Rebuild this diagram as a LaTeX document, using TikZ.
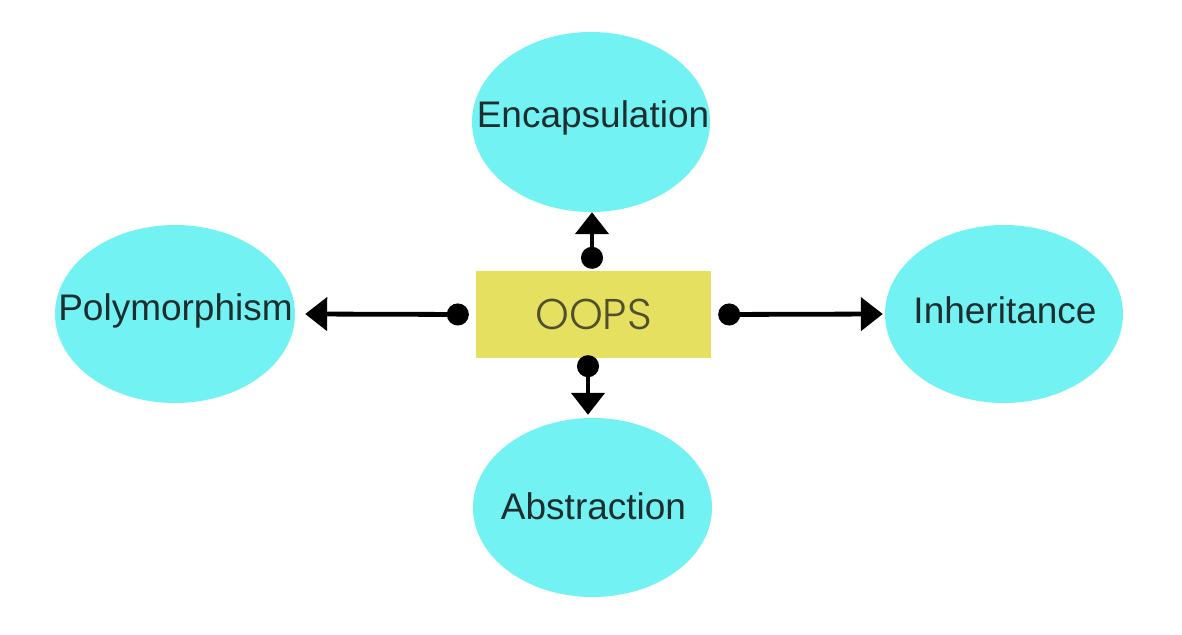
\documentclass[tikz,border=0pt]{standalone}
\usepackage{fontspec}
\setmainfont{Liberation Sans}
\newfontfamily\oopsfont{Poppins}[UprightFont={* Light}]
\usetikzlibrary{shapes.geometric,arrows.meta}
\definecolor{bubble}{RGB}{115,242,243}
\definecolor{oopsbg}{RGB}{230,224,96}
\definecolor{labeltext}{RGB}{30,45,45}
\definecolor{oopstext}{RGB}{80,78,45}
\tikzset{
  bubble/.style={ellipse, fill=bubble, draw=none, inner sep=0pt},
  bubbletext/.style={font=\fontsize{37}{40}\selectfont, text=labeltext},
  conn/.style={line width=4.8pt, {Circle[length=22pt]}-{Triangle[length=22pt,width=33pt]}},
}
\begin{document}
\begin{tikzpicture}[x=1pt,y=-1pt]
\useasboundingbox (0,0) rectangle (1182,634);
\node[bubble, minimum width=238pt, minimum height=180pt] (enc) at (591,122) {};
\node[bubble, minimum width=239pt, minimum height=179pt] (abs) at (592.5,507.5) {};
\node[bubble, minimum width=240pt, minimum height=178pt] (poly) at (175,314) {};
\node[bubble, minimum width=238pt, minimum height=178pt] (inh) at (1004,314) {};
\node[bubbletext] (enctext) at (593,118) {Encapsulation};
\node[bubbletext] (abstext) at (593.5,506) {Abstraction};
\node[bubbletext] (polytext) at (175.5,311) {Polymorphism};
\node[bubbletext] (inhtext) at (1005,310) {Inheritance};
\node[rectangle, fill=oopsbg, minimum width=235pt, minimum height=87pt, inner sep=0pt,
      font=\oopsfont\fontsize{43}{46}\selectfont, text=oopstext] (oops) at (593.5,314.5) {OOPS};
\draw[conn] ([xshift=-7pt]oops.west) -- ([xshift=10pt]poly.east);
\draw[conn] ([xshift=7pt]oops.east) -- ([xshift=-2pt]inh.west);
\draw[conn] ([xshift=-1.5pt,yshift=2pt]oops.north) -- ([xshift=1pt]enc.south);
\draw[conn] ([xshift=-5.5pt,yshift=3pt]oops.south) -- ([xshift=-4.5pt,yshift=3pt]abs.north);
\end{tikzpicture}
\end{document}
